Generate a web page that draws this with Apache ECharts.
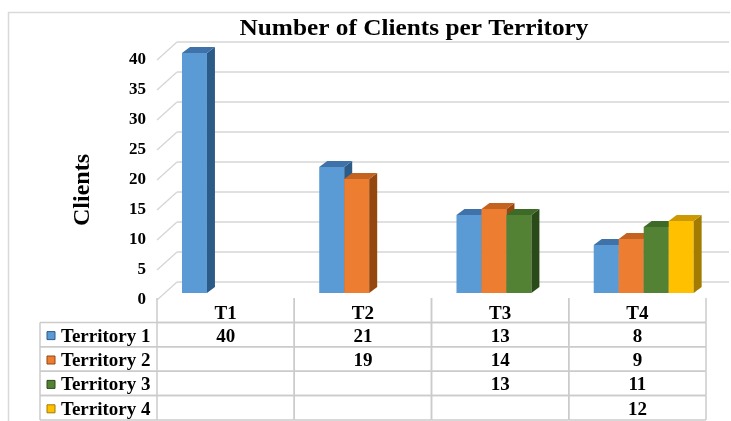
<!DOCTYPE html>
<html>
<head>
<meta charset="utf-8">
<title>Number of Clients per Territory</title>
<script src="https://cdn.jsdelivr.net/npm/echarts@6/dist/echarts.min.js"></script>
<style>
html, body { margin: 0; padding: 0; background: #fff; }
#main { width: 731px; height: 421px; }
</style>
</head>
<body>
<div id="main"></div>
<script>
// data
var categories = ['T1', 'T2', 'T3', 'T4'];
var territoryNames = ['Territory 1', 'Territory 2', 'Territory 3', 'Territory 4'];
var territory1 = [40, 21, 13, 8];
var territory2 = [null, 19, 14, 9];
var territory3 = [null, null, 13, 11];
var territory4 = [null, null, null, 12];
var tickValues = [0, 5, 10, 15, 20, 25, 30, 35, 40];
var yMin = 0, yMax = 40, yStep = 5;

var tableRows = [territory1, territory2, territory3, territory4];

var faceColors = ['#5B9BD5', '#ED7D31', '#548235', '#FFC000'];
var sideColors = ['#2D5B88', '#94470F', '#2B4A19', '#A37B00'];
var topColors  = ['#3F72A8', '#C4621F', '#3E6A27', '#CC9A00'];
var SERIF = '"Liberation Serif", "Times New Roman", serif';
var gridColor = '#d6d6d6';
var tableColor = '#cbcbcb';

// 3d column: front face, right side, top cap
function barRenderer(si) {
    return function (params, api) {
        var c = api.value(0), v = api.value(1);
        if (isNaN(v)) return;
        var band = api.size([1, 0])[0];
        var base = api.coord([c, 0]);
        var top = api.coord([c, v]);
        var w = band * 0.182;
        var x0 = base[0] - band / 2 + band * 0.182 + si * w;
        var yb = base[1] - 7, yt = top[1] - 7;
        var dx = 8, dy = -6;
        return {
            type: 'group',
            children: [
                {type: 'rect', shape: {x: x0, y: yt, width: w, height: yb - yt}, style: {fill: faceColors[si]}},
                {type: 'polygon', shape: {points: [[x0 + w, yt], [x0 + w + dx, yt + dy], [x0 + w + dx, yb + dy], [x0 + w, yb]]}, style: {fill: sideColors[si]}},
                {type: 'polygon', shape: {points: [[x0, yt], [x0 + dx, yt + dy], [x0 + w + dx, yt + dy], [x0 + w, yt]]}, style: {fill: topColors[si]}}
            ]
        };
    };
}

// side wall diagonal + back wall gridline for one tick
function wallRenderer(params, api) {
    var p = api.coord([0, api.value(1)]);
    var cs = params.coordSys;
    var y = p[1], xl = cs.x, xr = cs.x + cs.width + 23;
    return {
        type: 'group',
        children: [
            {type: 'line', shape: {x1: xl, y1: y, x2: xl + 20, y2: y - 18}, style: {stroke: gridColor, lineWidth: 1.4}},
            {type: 'line', shape: {x1: xl + 20, y1: y - 18, x2: xr, y2: y - 18}, style: {stroke: gridColor, lineWidth: 1.4}}
        ]
    };
}

function cellRenderer(params, api) {
    var c = api.value(0), r = api.value(1);
    var p = api.coord([c, r]);
    var sz = api.size([1, 1]);
    var x0 = p[0] - sz[0] / 2, x1 = p[0] + sz[0] / 2;
    var y0 = p[1] - sz[1] / 2, y1 = p[1] + sz[1] / 2;
    var ls = {stroke: tableColor, lineWidth: 1.5};
    var kids = [
        {type: 'line', shape: {x1: x0, y1: y0, x2: x0, y2: y1}, style: ls},
        {type: 'line', shape: {x1: x1, y1: y0, x2: x1, y2: y1}, style: ls},
        {type: 'line', shape: {x1: x0, y1: y1, x2: x1, y2: y1}, style: ls}
    ];
    if (r > 0) kids.push({type: 'line', shape: {x1: x0, y1: y0, x2: x1, y2: y0}, style: ls});
    var txt = r === 0 ? categories[c] : tableRows[r - 1][c];
    if (txt != null) {
        kids.push({type: 'text', style: {
            text: String(txt), x: p[0], y: p[1] + (r === 0 ? 4 : 2),
            align: 'center', verticalAlign: 'middle',
            fontSize: 19, fontWeight: 'bold', fontFamily: SERIF, fill: '#000'
        }});
    }
    return {type: 'group', children: kids};
}

function rowLabelRenderer(params, api) {
    var r = api.value(1);
    var p = api.coord([0, r]);
    var sz = api.size([1, 1]);
    var cs = params.coordSys;
    var xr = cs.x, xl = cs.x - 117;
    var y0 = p[1] - sz[1] / 2, y1 = p[1] + sz[1] / 2;
    var ls = {stroke: tableColor, lineWidth: 1.5};
    var si = r - 1;
    return {
        type: 'group',
        children: [
            {type: 'line', shape: {x1: xl, y1: y0, x2: xr, y2: y0}, style: ls},
            {type: 'line', shape: {x1: xl, y1: y1, x2: xr, y2: y1}, style: ls},
            {type: 'line', shape: {x1: xl, y1: y0, x2: xl, y2: y1}, style: ls},
            {type: 'rect', shape: {x: xl + 7, y: p[1] - 3, width: 8, height: 8}, style: {fill: faceColors[si], stroke: sideColors[si], lineWidth: 1}},
            {type: 'text', style: {
                text: territoryNames[si], x: xl + 21, y: p[1] + 2,
                align: 'left', verticalAlign: 'middle',
                fontSize: 19, fontWeight: 'bold', fontFamily: SERIF, fill: '#000'
            }}
        ]
    };
}

function toPairs(arr) {
    return arr.map(function (v, i) { return [i, v]; }).filter(function (d) { return d[1] != null; });
}

var chart = echarts.init(document.getElementById('main'));

var cells = [];
for (var r = 0; r <= territoryNames.length; r++) {
    for (var c = 0; c < categories.length; c++) cells.push([c, r]);
}

var barSeries = tableRows.map(function (vals, si) {
    return {
        name: territoryNames[si],
        type: 'custom',
        xAxisIndex: 0, yAxisIndex: 0,
        renderItem: barRenderer(si),
        data: toPairs(vals),
        z: 3
    };
});

var option = {
    backgroundColor: '#fff',
    animation: false,
    grid: [
        {left: 157, right: 25, top: 60, bottom: 121},
        {left: 157, right: 25, top: 298, bottom: 1}
    ],
    xAxis: [
        {type: 'category', gridIndex: 0, data: categories, show: false},
        {type: 'category', gridIndex: 1, data: categories, show: false}
    ],
    yAxis: [
        {
            type: 'value', gridIndex: 0, min: yMin, max: yMax, interval: yStep,
            axisLine: {show: false}, axisTick: {show: false}, splitLine: {show: false},
            axisLabel: {margin: 11, fontFamily: SERIF, fontSize: 17, fontWeight: 'bold', color: '#000'}
        },
        {type: 'category', gridIndex: 1, inverse: true, data: [''].concat(territoryNames), show: false}
    ],
    graphic: [
        {type: 'polyline', shape: {points: [[8.5, 421], [8.5, 12.5], [730, 12.5]]}, style: {stroke: '#d9d9d9', fill: null, lineWidth: 1.5}},
        // chart title, slightly wide like the source image
        {type: 'text', x: 414, y: 18, scaleX: 1.1,
         style: {text: 'Number of Clients per Territory', align: 'center', verticalAlign: 'top', fontFamily: SERIF, fontSize: 23, fontWeight: 'bold', fill: '#000'}},
        {type: 'text', x: 83, y: 190, rotation: Math.PI / 2,
         style: {text: 'Clients', align: 'center', verticalAlign: 'middle', fontFamily: SERIF, fontSize: 24, fontWeight: 'bold', fill: '#000'}}
    ],
    series: [
        {
            type: 'custom', xAxisIndex: 0, yAxisIndex: 0, z: 1, silent: true,
            renderItem: wallRenderer,
            data: tickValues.map(function (v) { return [0, v]; })
        }
    ].concat(barSeries).concat([
        {
            type: 'custom', xAxisIndex: 1, yAxisIndex: 1, z: 1, silent: true,
            renderItem: cellRenderer,
            data: cells
        },
        {
            type: 'custom', xAxisIndex: 1, yAxisIndex: 1, z: 1, silent: true,
            renderItem: rowLabelRenderer,
            data: [[0, 1], [0, 2], [0, 3], [0, 4]]
        }
    ])
};

chart.setOption(option);
</script>
</body>
</html>
